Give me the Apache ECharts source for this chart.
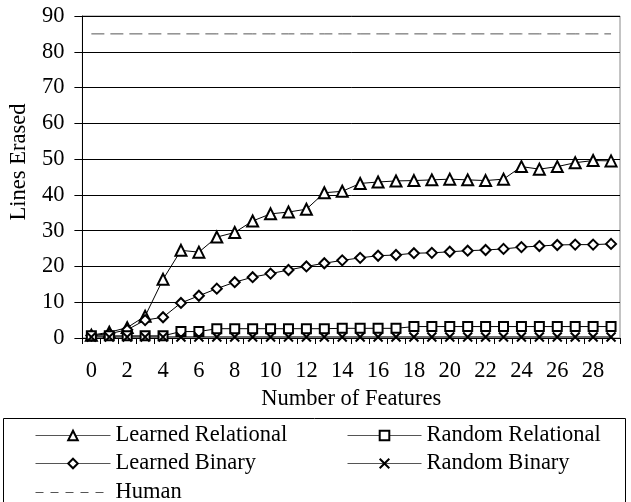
<!DOCTYPE html>
<html><head><meta charset="utf-8">
<script src="https://cdn.jsdelivr.net/npm/echarts@6/dist/echarts.min.js"></script>
<style>html,body{margin:0;padding:0;background:#fff}#c{width:631px;height:502px}</style>
</head><body><div id="c"></div>
<script>
var features = ['0','1','2','3','4','5','6','7','8','9','10','11','12','13','14','15','16','17','18','19','20','21','22','23','24','25','26','27','28','29'];
var learnedRelational = [0.8,1.6,2.9,6.1,16.4,24.5,24.0,28.2,29.5,32.7,34.7,35.2,36.0,40.6,41.0,43.2,43.6,43.9,44.0,44.2,44.4,44.2,44.0,44.4,47.9,47.2,47.9,49.0,49.6,49.5];
var learnedBinary = [0.7,1.2,2.3,5.0,5.8,9.8,11.8,13.8,15.6,17.0,18.0,19.0,20.0,20.9,21.7,22.4,23.0,23.2,23.7,23.8,24.1,24.4,24.6,24.9,25.4,25.7,26.0,26.1,26.1,26.3];
var randomRelational = [0.6,0.6,0.6,0.6,0.6,1.8,1.8,2.6,2.6,2.6,2.6,2.6,2.6,2.6,2.7,2.7,2.7,2.7,3.2,3.2,3.2,3.2,3.2,3.2,3.2,3.2,3.2,3.2,3.2,3.2];
var randomBinary = [0.3,0.3,0.3,0.3,0.3,0.3,0.3,0.3,0.3,0.3,0.3,0.3,0.3,0.3,0.3,0.3,0.3,0.3,0.3,0.3,0.3,0.3,0.3,0.3,0.3,0.3,0.3,0.3,0.3,0.3];
var human = [85,85,85,85,85,85,85,85,85,85,85,85,85,85,85,85,85,85,85,85,85,85,85,85,85,85,85,85,85,85];
var yTicks = {min:0, max:90, interval:10};

var FONT = '"Liberation Serif", "Times New Roman", serif';
var FS = 22.5;
var chart = echarts.init(document.getElementById('c'));
var crossPath = 'path://M0,0L10,10M0,10L10,0';
function ser(name, data, symbol, size) {
  return {
    name: name, type: 'line', data: data, symbol: symbol, symbolSize: size,
    showAllSymbol: true, animation: false,
    lineStyle: {color: '#000', width: 1},
    itemStyle: {color: symbol === crossPath ? '#000' : '#fff', borderColor: '#000', borderWidth: 2}
  };
}
function leg(item, left, top, w, dash) {
  return {
    data: [item], left: left, top: top, padding: 0, itemWidth: w, itemHeight: 12,
    selectedMode: false,
    lineStyle: {color: '#555', width: 1, type: dash || 'solid'},
    textStyle: {fontFamily: FONT, fontSize: FS, color: '#000', padding: [0,0,0,0]}
  };
}
chart.setOption({
  backgroundColor: '#fff',
  animation: false,
  grid: {left: 80, right: 11, top: 16, bottom: 164, show: true, borderColor: '#888', borderWidth: 1},
  xAxis: {
    type: 'category', data: features, boundaryGap: true,
    name: 'Number of Features', nameLocation: 'middle', nameGap: 48,
    nameTextStyle: {fontFamily: FONT, fontSize: FS, color: '#000'},
    axisLine: {lineStyle: {color: '#000', width: 1}},
    axisTick: {show: true, interval: 0, length: 6, lineStyle: {color: '#000'}},
    axisLabel: {interval: 1, fontFamily: FONT, fontSize: FS, color: '#000', margin: 22}
  },
  yAxis: {
    type: 'value', min: yTicks.min, max: yTicks.max, interval: yTicks.interval,
    name: 'Lines Erased', nameLocation: 'middle', nameGap: 46,
    nameTextStyle: {fontFamily: FONT, fontSize: FS, color: '#000', padding: [0, 0, 0, 30]},
    axisLine: {show: true, lineStyle: {color: '#000', width: 1}},
    axisTick: {show: true, length: 8, lineStyle: {color: '#000'}},
    axisLabel: {fontFamily: FONT, fontSize: FS, color: '#000', margin: 18},
    splitLine: {lineStyle: {color: '#000', width: 1}}
  },
  legend: [
    leg('Learned Relational', 35, 424, 75),
    leg('Random Relational', 347, 424, 74),
    leg('Learned Binary', 35, 452, 75),
    leg('Random Binary', 347, 452, 74),
    leg({name: 'Human', itemStyle: {color: 'transparent', borderColor: 'transparent', borderWidth: 0, opacity: 0}}, 35, 481, 75, [8, 7])
  ],
  graphic: [{type: 'rect', shape: {x: 3.5, y: 418.5, width: 622, height: 95}, style: {fill: 'none', stroke: '#000', lineWidth: 1}, silent: true}],
  series: [
    ser('Learned Relational', learnedRelational, 'triangle', 11),
    ser('Learned Binary', learnedBinary, 'diamond', 10),
    ser('Random Relational', randomRelational, 'rect', 9),
    ser('Random Binary', randomBinary, crossPath, 9),
    {name: 'Human', type: 'line', data: human, symbol: 'none', animation: false,
     lineStyle: {color: '#555', width: 1, type: [13, 6]}, itemStyle: {color: '#555'}}
  ]
});
</script></body></html>
